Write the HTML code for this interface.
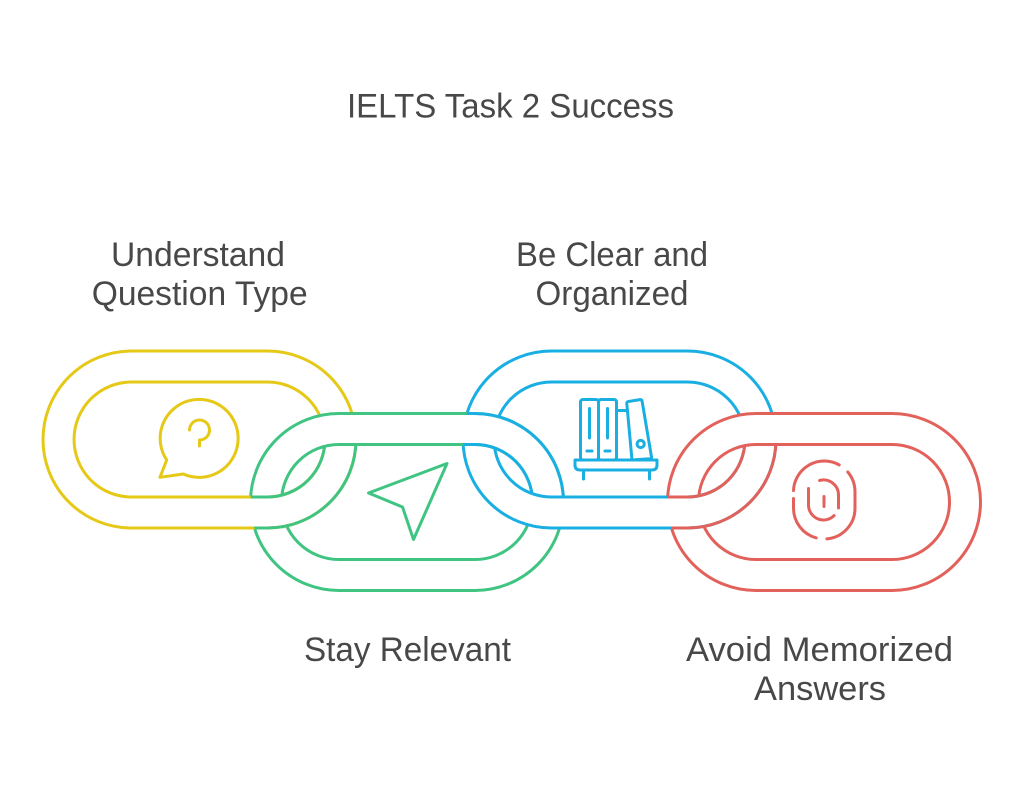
<!DOCTYPE html>
<html>
<head>
<meta charset="utf-8">
<style>
  html, body { margin: 0; padding: 0; background: #ffffff; }
  svg { display: block; }
  .t { font-family: "Liberation Sans", Arial, sans-serif; font-size: 34px; fill: #484848; }
</style>
</head>
<body>
<svg width="1024" height="795" viewBox="0 0 1024 795" xmlns="http://www.w3.org/2000/svg" xmlns:xlink="http://www.w3.org/1999/xlink">
  <defs>
    <path id="Y" fill-rule="evenodd" d="M131.5,351H267.5A88.5,88.5 0 0 1 267.5,528H131.5A88.5,88.5 0 0 1 131.5,351Z M131.5,382H267.5A57.5,57.5 0 0 1 267.5,497H131.5A57.5,57.5 0 0 1 131.5,382Z"/>
    <path id="G" fill-rule="evenodd" d="M339,413.5H475A88.5,88.5 0 0 1 475,590.5H339A88.5,88.5 0 0 1 339,413.5Z M339,444.5H475A57.5,57.5 0 0 1 475,559.5H339A57.5,57.5 0 0 1 339,444.5Z"/>
    <path id="B" fill-rule="evenodd" d="M551.5,351H687.5A88.5,88.5 0 0 1 687.5,528H551.5A88.5,88.5 0 0 1 551.5,351Z M551.5,382H687.5A57.5,57.5 0 0 1 687.5,497H551.5A57.5,57.5 0 0 1 551.5,382Z"/>
    <path id="R" fill-rule="evenodd" d="M756,413.5H892A88.5,88.5 0 0 1 892,590.5H756A88.5,88.5 0 0 1 756,413.5Z M756,444.5H892A57.5,57.5 0 0 1 892,559.5H756A57.5,57.5 0 0 1 756,444.5Z"/>

    <clipPath id="cG"><path d="M339,413.5H475A88.5,88.5 0 0 1 475,590.5H339A88.5,88.5 0 0 1 339,413.5Z"/></clipPath>
    <clipPath id="cB"><path d="M551.5,351H687.5A88.5,88.5 0 0 1 687.5,528H551.5A88.5,88.5 0 0 1 551.5,351Z"/></clipPath>
    <clipPath id="cR"><path d="M756,413.5H892A88.5,88.5 0 0 1 892,590.5H756A88.5,88.5 0 0 1 756,413.5Z"/></clipPath>

    <clipPath id="x1"><rect x="238" y="485" width="62" height="56"/></clipPath>
    <clipPath id="x2"><rect x="452" y="404" width="63" height="54"/></clipPath>
    <clipPath id="x3"><rect x="656" y="485" width="64" height="56"/></clipPath>
  </defs>

  <!-- Title -->
  <text class="t" x="510.5" y="117.5" text-anchor="middle" textLength="327" lengthAdjust="spacingAndGlyphs">IELTS Task 2 Success</text>

  <!-- Top labels -->
  <text class="t" x="198" y="266" text-anchor="middle" textLength="174" lengthAdjust="spacingAndGlyphs">Understand</text>
  <text class="t" x="199.7" y="305" text-anchor="middle" textLength="216" lengthAdjust="spacingAndGlyphs">Question Type</text>
  <text class="t" x="612" y="266" text-anchor="middle" textLength="192" lengthAdjust="spacingAndGlyphs">Be Clear and</text>
  <text class="t" x="612" y="305" text-anchor="middle" textLength="153" lengthAdjust="spacingAndGlyphs">Organized</text>

  <!-- Bottom labels -->
  <text class="t" x="407.5" y="661" text-anchor="middle" textLength="207" lengthAdjust="spacingAndGlyphs">Stay Relevant</text>
  <text class="t" x="819.5" y="661" text-anchor="middle" textLength="267" lengthAdjust="spacingAndGlyphs">Avoid Memorized</text>
  <text class="t" x="820" y="700" text-anchor="middle" textLength="132" lengthAdjust="spacingAndGlyphs">Answers</text>

  <!-- Chain -->
  <g stroke-width="3">
    <!-- Yellow -->
    <use xlink:href="#Y" href="#Y" fill="#ffffff" stroke="#E6C817"/>
    <!-- Green -->
    <use xlink:href="#Y" href="#Y" fill="none" stroke="#3FC482" clip-path="url(#cG)"/>
    <use xlink:href="#G" href="#G" fill="#ffffff" stroke="#3FC482"/>
    <g clip-path="url(#x1)">
      <use xlink:href="#Y" href="#Y" fill="#ffffff" stroke="#E6C817"/>
      <use xlink:href="#Y" href="#Y" fill="none" stroke="#3FC482" clip-path="url(#cG)"/>
    </g>
    <!-- Blue -->
    <use xlink:href="#G" href="#G" fill="none" stroke="#1AAFE3" clip-path="url(#cB)"/>
    <use xlink:href="#B" href="#B" fill="#ffffff" stroke="#1AAFE3"/>
    <g clip-path="url(#x2)">
      <use xlink:href="#G" href="#G" fill="#ffffff" stroke="#3FC482"/>
      <use xlink:href="#G" href="#G" fill="none" stroke="#1AAFE3" clip-path="url(#cB)"/>
    </g>
    <!-- Red -->
    <use xlink:href="#B" href="#B" fill="none" stroke="#E2615B" clip-path="url(#cR)"/>
    <use xlink:href="#R" href="#R" fill="#ffffff" stroke="#E2615B"/>
    <g clip-path="url(#x3)">
      <use xlink:href="#B" href="#B" fill="#ffffff" stroke="#1AAFE3"/>
      <use xlink:href="#B" href="#B" fill="none" stroke="#E2615B" clip-path="url(#cR)"/>
    </g>
  </g>

  <!-- Icon: question bubble -->
  <g fill="none" stroke="#E6C817" stroke-width="3" stroke-linecap="round" stroke-linejoin="round">
    <path d="M183.3,474 A39,39 0 1 0 166.7,460 L160,477.3 Z"/>
    <path d="M189.5,430 A10,10 0 1 1 199.5,440 L199.5,446"/>
  </g>

  <!-- Icon: navigation arrow -->
  <g fill="none" stroke="#3FC482" stroke-width="3" stroke-linecap="round" stroke-linejoin="round">
    <path d="M447,463.5 L368.5,493 L402.5,507 L413.5,539.5 Z"/>
  </g>

  <!-- Icon: books -->
  <g fill="none" stroke="#1AAFE3" stroke-width="3" stroke-linecap="round" stroke-linejoin="round">
    <rect x="580.5" y="399.5" width="18" height="60.5" rx="2.5"/>
    <rect x="598.5" y="399.5" width="18" height="60.5" rx="2.5"/>
    <path d="M616.5,460 V410.5 H627.4"/>
    <path d="M628.5,401.5 L640,399.6 Q641.8,399.4 642.1,401.2 L651.5,457 Q651.7,458.6 650,458.8 L632,460 L626.8,403.6 Q626.7,401.8 628.5,401.5 Z"/>
    <path d="M589.5,408.5 V438"/>
    <path d="M607.5,408.5 V438"/>
    <path d="M587,451 H592"/>
    <path d="M605,451 H610"/>
    <circle cx="640.7" cy="444" r="3.6"/>
    <path d="M575,460 H657 V465 Q657,470 652,470 H580 Q575,470 575,465 Z"/>
    <path d="M583.5,470 V479"/>
    <path d="M649.5,470 V479"/>
  </g>

  <!-- Icon: fingerprint -->
  <g fill="none" stroke="#E2615B" stroke-width="3" stroke-linecap="round" stroke-linejoin="round">
    <path d="M793.5,490.5 A30.75,30.75 0 0 1 839.2,464.9"/>
    <path d="M847.8,472 A30.75,30.75 0 0 1 855,491.75 V508.25 A30.75,30.75 0 0 1 826.9,538.9"/>
    <path d="M816.3,537.9 A30.75,30.75 0 0 1 793.5,508.25 V498.5"/>
    <path d="M808.5,488.5 V505 A15,15 0 0 0 834.1,515.6"/>
    <path d="M838.5,508 V495 A15,15 0 0 0 819.6,480.5"/>
    <path d="M824,496.5 V506.5"/>
  </g>
</svg>
</body>
</html>
